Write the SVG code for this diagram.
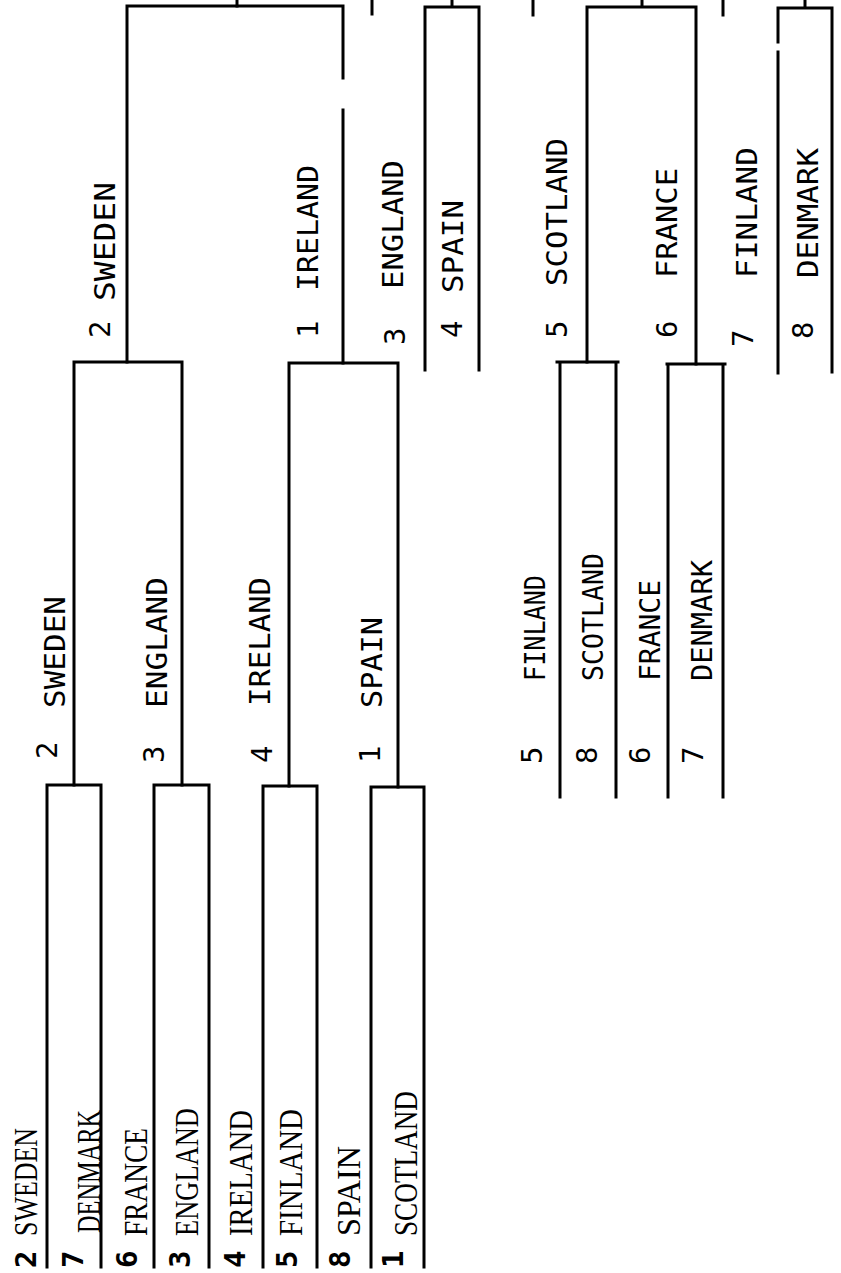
<svg xmlns="http://www.w3.org/2000/svg" width="841" height="1273" viewBox="0 0 841 1273">
<style>
.ln{fill:none;stroke:#000;stroke-width:3;stroke-linecap:square}
.s{font-family:"DejaVu Sans Mono","Liberation Mono",monospace;font-size:29px;fill:#000}
.b{font-weight:bold}
.r{font-family:"Liberation Serif","DejaVu Serif",serif;font-size:33px;fill:#000}
</style>
<rect width="841" height="1273" fill="#fff"/>
<g id="connectors" class="ln">
<path d="M47,1267V785H101V1267"/>
<path d="M154,1267V785H209V1267"/>
<path d="M263,1267V786H317V1267"/>
<path d="M371,1267V787H424V1267"/>
<path d="M74,785V362H182V785"/>
<path d="M289,786V363H398V787"/>
<path d="M127,362V6H343V78M343,110V363"/>
<path d="M237,6V0"/>
<path d="M425,370V7H479V370M452,7V0"/>
<path d="M372,0V14M533,0V15M723,0V15"/>
<path d="M587,362V7H696V364M642,7V0"/>
<path d="M778,373V52M778,42V8H832V372M805,8V0"/>
<path d="M557,362H618M560,362V797M616,362V797"/>
<path d="M667,364H725M668,364V797M723,364V797"/>
</g>
<!-- round 1 -->
<g id="r1-sweden"><text class="s b" transform="translate(36,1268) rotate(-90)">2</text><text class="r" textLength="108" lengthAdjust="spacingAndGlyphs" transform="translate(37,1236) rotate(-90)">SWEDEN</text></g>
<g id="r1-denmark"><text class="s b" transform="translate(83,1268) rotate(-90)">7</text><text class="r" textLength="123" lengthAdjust="spacingAndGlyphs" transform="translate(100,1233) rotate(-90)">DENMARK</text></g>
<g id="r1-france"><text class="s b" transform="translate(137,1268) rotate(-90)">6</text><text class="r" textLength="108" lengthAdjust="spacingAndGlyphs" transform="translate(147,1236) rotate(-90)">FRANCE</text></g>
<g id="r1-england"><text class="s b" transform="translate(190,1268) rotate(-90)">3</text><text class="r" textLength="128" lengthAdjust="spacingAndGlyphs" transform="translate(198,1236) rotate(-90)">ENGLAND</text></g>
<g id="r1-ireland"><text class="s b" transform="translate(245,1268) rotate(-90)">4</text><text class="r" textLength="126" lengthAdjust="spacingAndGlyphs" transform="translate(252,1236) rotate(-90)">IRELAND</text></g>
<g id="r1-finland"><text class="s b" transform="translate(297,1268) rotate(-90)">5</text><text class="r" textLength="127" lengthAdjust="spacingAndGlyphs" transform="translate(302,1236) rotate(-90)">FINLAND</text></g>
<g id="r1-spain"><text class="s b" transform="translate(350,1268) rotate(-90)">8</text><text class="r" textLength="90" lengthAdjust="spacingAndGlyphs" transform="translate(360,1236) rotate(-90)">SPAIN</text></g>
<g id="r1-scotland"><text class="s b" transform="translate(403,1268) rotate(-90)">1</text><text class="r" textLength="145" lengthAdjust="spacingAndGlyphs" transform="translate(417,1236) rotate(-90)">SCOTLAND</text></g>
<!-- round 2 -->
<g id="r2-sweden"><text class="s" transform="translate(57,759) rotate(-90)">2</text><text class="s" textLength="112" lengthAdjust="spacingAndGlyphs" transform="translate(65,708) rotate(-90)">SWEDEN</text></g>
<g id="r2-england"><text class="s" transform="translate(164,763) rotate(-90)">3</text><text class="s" textLength="131" lengthAdjust="spacingAndGlyphs" transform="translate(167,708) rotate(-90)">ENGLAND</text></g>
<g id="r2-ireland"><text class="s" transform="translate(272,763) rotate(-90)">4</text><text class="s" textLength="129" lengthAdjust="spacingAndGlyphs" transform="translate(270,706) rotate(-90)">IRELAND</text></g>
<g id="r2-spain"><text class="s" transform="translate(380,763) rotate(-90)">1</text><text class="s" textLength="91" lengthAdjust="spacingAndGlyphs" transform="translate(382,708) rotate(-90)">SPAIN</text></g>
<!-- top row -->
<g id="t-sweden"><text class="s" transform="translate(110,338) rotate(-90)">2</text><text class="s" textLength="119" lengthAdjust="spacingAndGlyphs" transform="translate(115,301) rotate(-90)">SWEDEN</text></g>
<g id="t-ireland"><text class="s" transform="translate(318,338) rotate(-90)">1</text><text class="s" textLength="126" lengthAdjust="spacingAndGlyphs" transform="translate(318,291) rotate(-90)">IRELAND</text></g>
<g id="t-england"><text class="s" transform="translate(405,345) rotate(-90)">3</text><text class="s" textLength="129" lengthAdjust="spacingAndGlyphs" transform="translate(403,289) rotate(-90)">ENGLAND</text></g>
<g id="t-spain"><text class="s" transform="translate(462,338) rotate(-90)">4</text><text class="s" textLength="93" lengthAdjust="spacingAndGlyphs" transform="translate(463,293) rotate(-90)">SPAIN</text></g>
<g id="t-scotland"><text class="s" transform="translate(567,338) rotate(-90)">5</text><text class="s" textLength="148" lengthAdjust="spacingAndGlyphs" transform="translate(567,286) rotate(-90)">SCOTLAND</text></g>
<g id="t-france"><text class="s" transform="translate(677,338) rotate(-90)">6</text><text class="s" textLength="110" lengthAdjust="spacingAndGlyphs" transform="translate(677,278) rotate(-90)">FRANCE</text></g>
<g id="t-finland"><text class="s" transform="translate(753,347) rotate(-90)">7</text><text class="s" textLength="131" lengthAdjust="spacingAndGlyphs" transform="translate(757,278) rotate(-90)">FINLAND</text></g>
<g id="t-denmark"><text class="s" transform="translate(813,339) rotate(-90)">8</text><text class="s" textLength="130" lengthAdjust="spacingAndGlyphs" transform="translate(818,278) rotate(-90)">DENMARK</text></g>
<!-- lower right -->
<g id="lr-finland"><text class="s" transform="translate(542,764) rotate(-90)">5</text><text class="s" textLength="106" lengthAdjust="spacingAndGlyphs" transform="translate(545,681) rotate(-90)">FINLAND</text></g>
<g id="lr-scotland"><text class="s" transform="translate(597,764) rotate(-90)">8</text><text class="s" textLength="128" lengthAdjust="spacingAndGlyphs" transform="translate(603,681) rotate(-90)">SCOTLAND</text></g>
<g id="lr-france"><text class="s" transform="translate(650,764) rotate(-90)">6</text><text class="s" textLength="101" lengthAdjust="spacingAndGlyphs" transform="translate(660,681) rotate(-90)">FRANCE</text></g>
<g id="lr-denmark"><text class="s" transform="translate(703,764) rotate(-90)">7</text><text class="s" textLength="121" lengthAdjust="spacingAndGlyphs" transform="translate(712,681) rotate(-90)">DENMARK</text></g>
</svg>
